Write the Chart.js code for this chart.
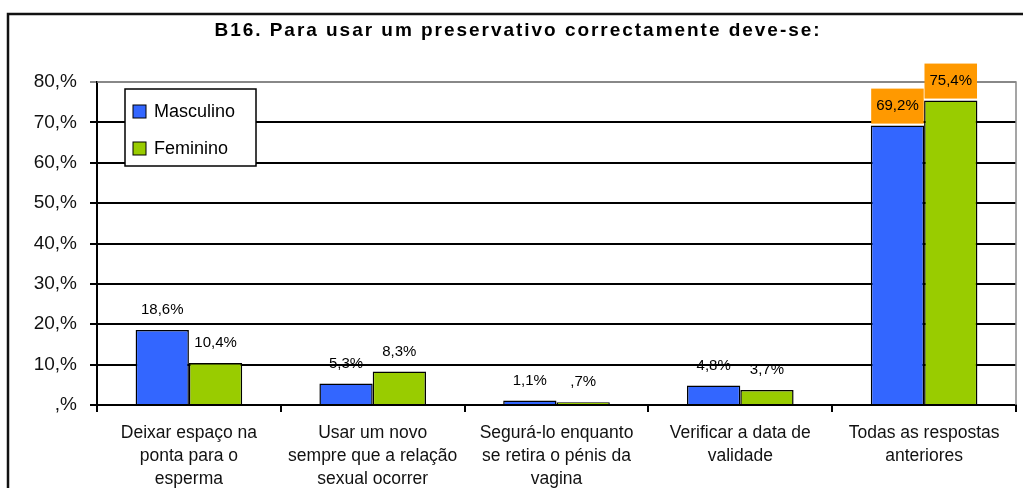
<!DOCTYPE html>
<html>
<head>
<meta charset="utf-8">
<script src="https://cdn.jsdelivr.net/npm/chart.js@4/dist/chart.umd.min.js"></script>
<style>
    html, body { margin: 0; padding: 0; background: #fff; }
    #wrap { width: 1023px; height: 488px; }
</style>
</head>
<body>
<div id="wrap"><canvas id="chart" width="1023" height="488"></canvas></div>
<script>
const titulo = 'B16. Para usar um preservativo correctamente deve-se:';
const categorias = [
    ['Deixar espaço na', 'ponta para o', 'esperma'],
    ['Usar um novo', 'sempre que a relação', 'sexual ocorrer'],
    ['Segurá-lo enquanto', 'se retira o pénis da', 'vagina'],
    ['Verificar a data de', 'validade'],
    ['Todas as respostas', 'anteriores']
];
const series = ['Masculino', 'Feminino'];
const masculino = [18.6, 5.3, 1.1, 4.8, 69.2];
const feminino = [10.4, 8.3, 0.7, 3.7, 75.4];
const ticksY = [0, 10, 20, 30, 40, 50, 60, 70, 80];
const destaque = [4]; // categorias com rótulo em caixa laranja

const FONT = '"Liberation Sans", Arial, sans-serif';
const cores = ['#3366FF', '#99CC00'];

const fmtPct = v => {
    let s = v.toFixed(1).replace('.', ',');
    if (s.startsWith('0')) s = s.slice(1);
    return s + '%';
};

const fundo = {
    id: 'fundo',
    beforeDraw(chart) {
        const ctx = chart.ctx;
        ctx.save();
        ctx.fillStyle = '#fff';
        ctx.fillRect(0, 0, chart.width, chart.height);
        ctx.strokeStyle = '#111';
        ctx.lineWidth = 2.5;
        ctx.strokeRect(8, 14, chart.width + 20, chart.height + 20);
        // título
        ctx.fillStyle = '#000';
        ctx.font = 'bold 19px ' + FONT;
        const largura = ctx.measureText(titulo).width;
        ctx.letterSpacing = Math.max(0, (607 - largura) / titulo.length).toFixed(2) + 'px';
        ctx.textAlign = 'center';
        ctx.textBaseline = 'middle';
        ctx.fillText(titulo, 518, 31);
        ctx.restore();
    }
};

const extras = {
    id: 'extras',
    afterDraw(chart) {
        const ctx = chart.ctx;
        const a = chart.chartArea;
        ctx.save();
        // borda cinzenta da área do gráfico
        ctx.strokeStyle = '#888';
        ctx.lineWidth = 1.5;
        ctx.beginPath();
        ctx.moveTo(a.left, a.top);
        ctx.lineTo(a.right, a.top);
        ctx.lineTo(a.right, a.bottom);
        ctx.stroke();

        // rótulos de dados
        ctx.font = '15px ' + FONT;
        ctx.textAlign = 'center';
        ctx.textBaseline = 'middle';
        chart.data.datasets.forEach((ds, i) => {
            chart.getDatasetMeta(i).data.forEach((bar, j) => {
                const txt = fmtPct(ds.data[j]);
                const cy = bar.y - 20;
                if (destaque.includes(j)) {
                    const w = ctx.measureText(txt).width;
                    ctx.fillStyle = '#FF9900';
                    ctx.fillRect(bar.x - w / 2 - 5, cy - 17, w + 10, 35);
                }
                ctx.fillStyle = '#000';
                ctx.fillText(txt, bar.x, cy);
            });
        });

        // legenda
        ctx.fillStyle = '#fff';
        ctx.fillRect(125, 89, 131, 77);
        ctx.strokeStyle = '#000';
        ctx.lineWidth = 1.5;
        ctx.strokeRect(125, 89, 131, 77);
        ctx.font = '18px ' + FONT;
        ctx.textAlign = 'left';
        series.forEach((nome, i) => {
            const y = 111 + i * 37;
            ctx.fillStyle = cores[i];
            ctx.fillRect(133, y - 6, 13, 13);
            ctx.lineWidth = 1;
            ctx.strokeRect(133, y - 6, 13, 13);
            ctx.fillStyle = '#000';
            ctx.fillText(nome, 154, y + 1);
        });
        ctx.restore();
    }
};

new Chart(document.getElementById('chart'), {
    type: 'bar',
    data: {
        labels: categorias,
        datasets: [
            { label: series[0], data: masculino, backgroundColor: cores[0], borderColor: '#000', borderWidth: 1.5 },
            { label: series[1], data: feminino, backgroundColor: cores[1], borderColor: '#000', borderWidth: 1.5 }
        ]
    },
    options: {
        responsive: false,
        animation: false,
        devicePixelRatio: 1,
        layout: { padding: { top: 82, right: 7, bottom: 0, left: 0 } },
        datasets: { bar: { categoryPercentage: 0.58, barPercentage: 1 } },
        scales: {
            x: {
                grid: { offset: true, drawOnChartArea: false, color: '#000', lineWidth: 2, tickLength: 7 },
                border: { color: '#000', width: 2 },
                ticks: { color: '#111', font: { size: 17.5, family: FONT, lineHeight: '23px' }, padding: 10, maxRotation: 0, autoSkip: false },
                afterFit: s => { s.height = 83; }
            },
            y: {
                min: 0,
                max: 80,
                afterBuildTicks: s => { s.ticks = ticksY.map(v => ({ value: v })); },
                grid: {
                    color: c => (c.tick && c.tick.value === 80) ? '#888' : '#000',
                    lineWidth: 2,
                    tickLength: 7
                },
                border: { color: '#000', width: 2 },
                ticks: {
                    color: '#111',
                    font: { size: 19, family: FONT },
                    padding: 13,
                    callback: v => (v === 0 ? '' : v) + ',%'
                },
                afterFit: s => { s.width = 97; }
            }
        },
        plugins: {
            legend: { display: false },
            title: { display: false },
            tooltip: { enabled: false }
        }
    },
    plugins: [fundo, extras]
});
</script>
</body>
</html>
